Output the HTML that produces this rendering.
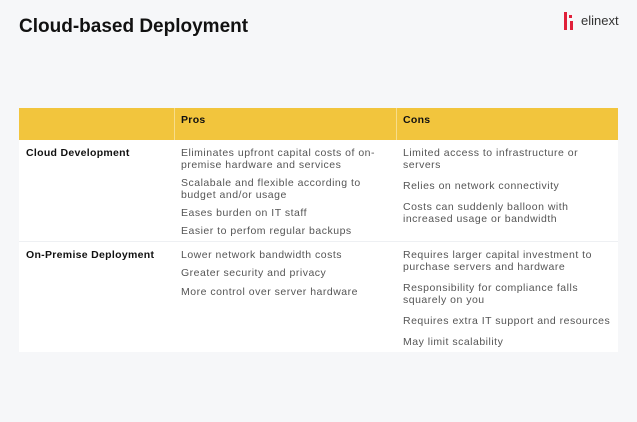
<!DOCTYPE html>
<html><head><style>
body{margin:0;width:637px;height:422px;background:#f6f7f9;font-family:"Liberation Sans",sans-serif;position:relative;overflow:hidden}
.t{position:absolute;white-space:nowrap;font-size:10.5px;letter-spacing:0.5px;color:#555;line-height:12px}
.b{color:#111;font-weight:bold;letter-spacing:0.3px}
</style></head><body>
<div style="position:absolute;left:19px;top:16px;font-size:19px;font-weight:bold;color:#111;">Cloud-based Deployment</div>
<div style="position:absolute;left:564px;top:12px;width:3px;height:18px;background:#e0203a"></div>
<div style="position:absolute;left:569px;top:15px;width:3px;height:3px;background:#e0203a"></div>
<div style="position:absolute;left:570px;top:21px;width:3px;height:9px;background:#e0203a"></div>
<div class="t" style="left:581px;top:15px;font-size:13px;letter-spacing:0;color:#333">elinext</div>
<div style="position:absolute;left:19px;top:108px;width:599px;height:244px;background:#fff"></div>
<div style="position:absolute;left:19px;top:108px;width:599px;height:32px;background:#f2c53d"></div>
<div style="position:absolute;left:174px;top:108px;width:1px;height:32px;background:#f7dd8a"></div>
<div style="position:absolute;left:396px;top:108px;width:1px;height:32px;background:#f7dd8a"></div>
<div style="position:absolute;left:19px;top:241px;width:599px;height:1px;background:#eef0f3"></div>
<div class="t b" style="left:181px;top:114px">Pros</div>
<div class="t b" style="left:403px;top:114px">Cons</div>
<div class="t b" style="left:26px;top:147px">Cloud Development</div>
<div class="t" style="left:181px;top:147px">Eliminates upfront capital costs of on-<br>premise hardware and services</div>
<div class="t" style="left:181px;top:177px">Scalabale and flexible according to<br>budget and/or usage</div>
<div class="t" style="left:181px;top:207px">Eases burden on IT staff</div>
<div class="t" style="left:181px;top:225px">Easier to perfom regular backups</div>
<div class="t" style="left:403px;top:147px">Limited access to infrastructure or<br>servers</div>
<div class="t" style="left:403px;top:180px">Relies on network connectivity</div>
<div class="t" style="left:403px;top:201px">Costs can suddenly balloon with<br>increased usage or bandwidth</div>
<div class="t b" style="left:26px;top:249px">On-Premise Deployment</div>
<div class="t" style="left:181px;top:249px">Lower network bandwidth costs</div>
<div class="t" style="left:181px;top:267px">Greater security and privacy</div>
<div class="t" style="left:181px;top:286px">More control over server hardware</div>
<div class="t" style="left:403px;top:249px">Requires larger capital investment to<br>purchase servers and hardware</div>
<div class="t" style="left:403px;top:282px">Responsibility for compliance falls<br>squarely on you</div>
<div class="t" style="left:403px;top:315px">Requires extra IT support and resources</div>
<div class="t" style="left:403px;top:336px">May limit scalability</div>
</body></html>
